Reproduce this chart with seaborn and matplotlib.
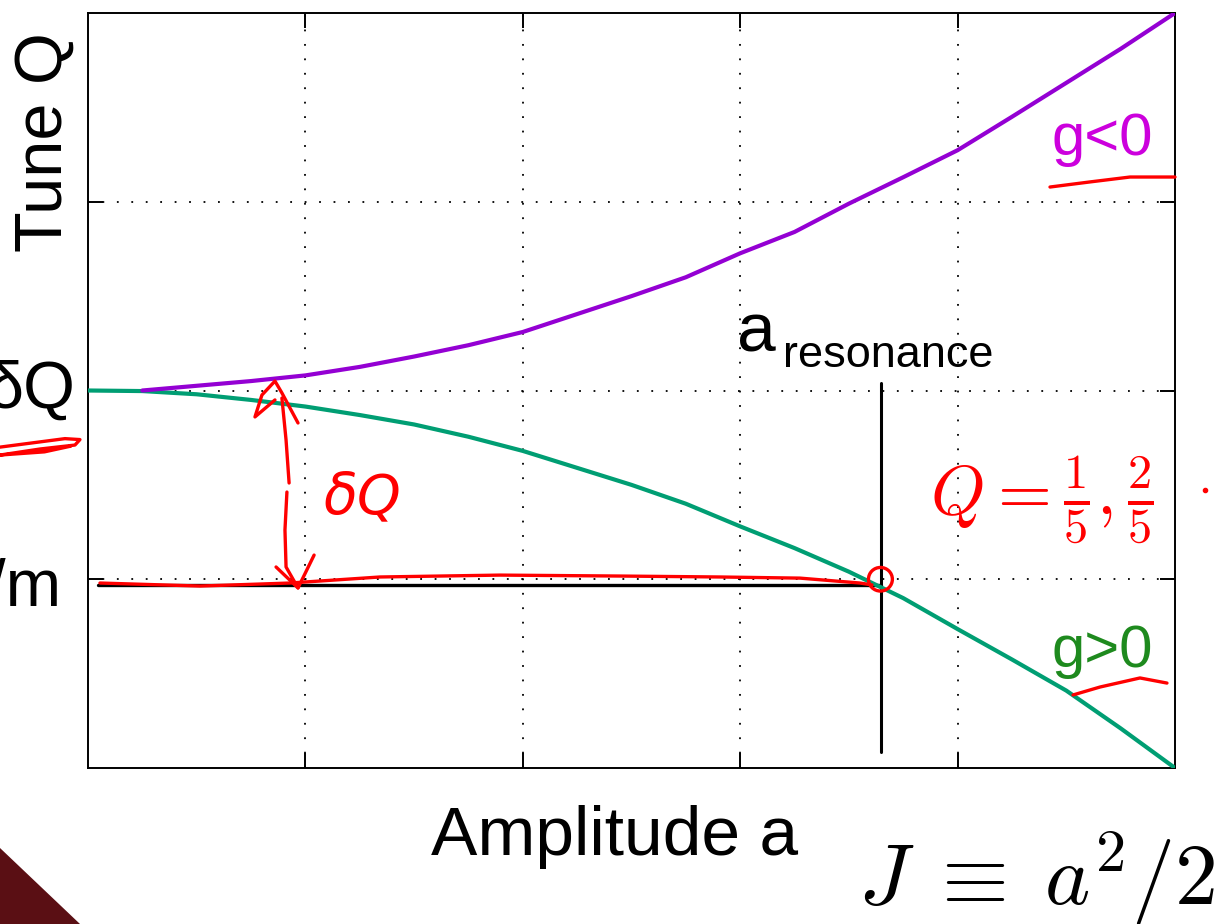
import matplotlib
matplotlib.use('Agg')
import matplotlib.pyplot as plt
from matplotlib.patches import Ellipse, Polygon
import seaborn as sns

# tune vs amplitude
amp_pos = [0, 0.25, 0.5, 0.75, 1.0, 1.25, 1.5, 1.75, 2.0, 2.25, 2.5, 2.75,
           3.0, 3.25, 3.5, 3.75, 4.0, 4.25, 4.5, 4.75, 5.0]
q_gpos = [2.0, 1.997, 1.98, 1.95, 1.915, 1.87, 1.82, 1.755, 1.68, 1.59, 1.50, 1.40,
          1.28, 1.165, 1.04, 0.90, 0.736, 0.575, 0.41, 0.21, 0.0]
amp_neg = [0.25, 0.5, 0.75, 1.0, 1.25, 1.5, 1.75, 2.0, 2.25, 2.5, 2.75,
           3.0, 3.25, 3.5, 3.75, 4.0, 4.25, 4.5, 4.75, 5.0]
q_gneg = [2.0, 2.025, 2.05, 2.08, 2.125, 2.18, 2.24, 2.31, 2.405, 2.50, 2.60,
          2.727, 2.84, 2.99, 3.13, 3.273, 3.45, 3.63, 3.81, 4.0]

a_res = 3.647       # resonance amplitude
q_res = 0.97        # resonant tune n/m
res_line_y = [0.085, 2.04]
res_line_x = [0.046, a_res]

xticks = [1, 2, 3, 4]
yticks = [1, 2, 3]

# red hand-drawn annotations (data units)
arrow_shaft1_x = [0.892, 0.911, 0.925]
arrow_shaft1_y = [1.960, 1.738, 1.510]
arrow_shaft2_x = [0.915, 0.906, 0.911, 0.966]
arrow_shaft2_y = [1.462, 1.261, 1.065, 0.954]
arrow_top_x = [0.860, 0.768, 0.800, 0.860, 0.892, 0.966]
arrow_top_y = [1.950, 1.860, 1.976, 2.050, 1.987, 1.828]
arrow_bot_x = [0.865, 0.966, 1.040]
arrow_bot_y = [1.065, 0.954, 1.128]
red_h_x = [0.055, 0.515, 0.929, 1.343, 1.895, 2.447, 2.907, 3.275, 3.551, 3.606]
red_h_y = [0.980, 0.964, 0.980, 1.012, 1.022, 1.017, 1.012, 1.006, 0.980, 0.970]
dq_under_x = [-0.405, -0.106, -0.037, -0.060, -0.221, -0.405, -0.200, -0.080]
dq_under_y = [1.700, 1.745, 1.740, 1.711, 1.690, 1.658, 1.675, 1.705]
gneg_under_x = [4.425, 4.609, 4.793, 5.0]
gneg_under_y = [3.078, 3.105, 3.131, 3.131]
gpos_under_x = [4.531, 4.655, 4.839, 4.963]
gpos_under_y = [0.387, 0.429, 0.477, 0.450]

W, H = 1220, 924

def fx(px):
    return px / W

def fy(py):
    return 1 - py / H

sns.set_style('white')
plt.rcParams['font.family'] = ['Liberation Sans', 'DejaVu Sans']
plt.rcParams['mathtext.fontset'] = 'cm'
plt.rcParams['text.color'] = 'black'

fig = plt.figure(figsize=(12.2, 9.24), dpi=100)
fig.patch.set_facecolor('white')

# slide background corner
fig.patches.append(Polygon([(0, fy(848)), (0, 0), (fx(80), 0)], closed=True,
                           transform=fig.transFigure, facecolor='#5a0f14',
                           edgecolor='none'))

ax = fig.add_axes([fx(88), fy(768), fx(1175) - fx(88), fy(13) - fy(768)])

sns.lineplot(x=amp_pos, y=q_gpos, ax=ax, color='#009e73', lw=3, zorder=3)
sns.lineplot(x=amp_neg, y=q_gneg, ax=ax, color='#9400d3', lw=3, zorder=3)

ax.plot(res_line_x, [q_res, q_res], color='black', lw=2.4, zorder=2)
ax.plot([a_res, a_res], res_line_y, color='black', lw=2.2, zorder=2)

ax.set_xlim(0, 5)
ax.set_ylim(0, 4)
ax.set_xticks(xticks)
ax.set_yticks(yticks)
ax.set_xticklabels([])
ax.set_yticklabels([])
ax.tick_params(direction='in', length=11, width=1.4, top=True, right=True,
               bottom=True, left=True, color='black')
ax.grid(True, color='black', lw=1.3, ls=(0, (1, 7)))
for s in ax.spines.values():
    s.set_color('black')
    s.set_linewidth(1.4)
ax.set_xlabel('')
ax.set_ylabel('')

# red hand-drawn marks
red = dict(color='#ff0000', lw=2.4, clip_on=False, zorder=5,
           solid_capstyle='round', solid_joinstyle='round')
ax.plot(arrow_shaft1_x, arrow_shaft1_y, **red)
ax.plot(arrow_shaft2_x, arrow_shaft2_y, **red)
ax.plot(arrow_top_x, arrow_top_y, **red)
ax.plot(arrow_bot_x, arrow_bot_y, **red)
ax.plot(red_h_x, red_h_y, **red)
ax.plot(dq_under_x, dq_under_y, **red)
ax.plot(gneg_under_x, gneg_under_y, **red)
ax.plot(gpos_under_x, gpos_under_y, **red)
ax.plot([5.138], [1.473], 'o', color='#ff0000', ms=3, clip_on=False)
ax.add_patch(Ellipse((3.645, 1.0), 0.11, 0.125, fill=False, ec='#ff0000',
                     lw=2.4, zorder=5))
ax.text(1.26, 1.43, 'δQ', color='#ff0000', fontsize=40, ha='center',
        va='center', style='italic', family='DejaVu Sans', zorder=5)
ax.text(4.39, 1.42, r'$Q=\frac{1}{5},\frac{2}{5}$', color='#ff0000',
        fontsize=50, ha='center', va='center', zorder=5)

# labels
fig.text(fx(45), fy(142), 'Tune Q', rotation=90, fontsize=48,
         ha='center', va='center')
fig.text(fx(75), fy(408), 'δQ', fontsize=48, ha='right', va='baseline')
fig.text(fx(62), fy(606), 'n/m', fontsize=48, ha='right', va='baseline')
fig.text(fx(615), fy(855), 'Amplitude a', fontsize=50, ha='center',
         va='baseline')
fig.text(fx(1215), fy(905), r'$J\;\equiv\;a^2/2$', fontsize=62, ha='right',
         va='baseline')
fig.text(fx(737), fy(352), 'a', fontsize=50, ha='left', va='baseline')
fig.text(fx(783), fy(367), 'resonance', fontsize=32.5, ha='left',
         va='baseline')
fig.text(fx(1052), fy(155), 'g<0', fontsize=43, color='#cc00dd',
         ha='left', va='baseline')
fig.text(fx(1052), fy(667), 'g>0', fontsize=43, color='#1e8a1e',
         ha='left', va='baseline')

fig.savefig('out.png', dpi=100)
